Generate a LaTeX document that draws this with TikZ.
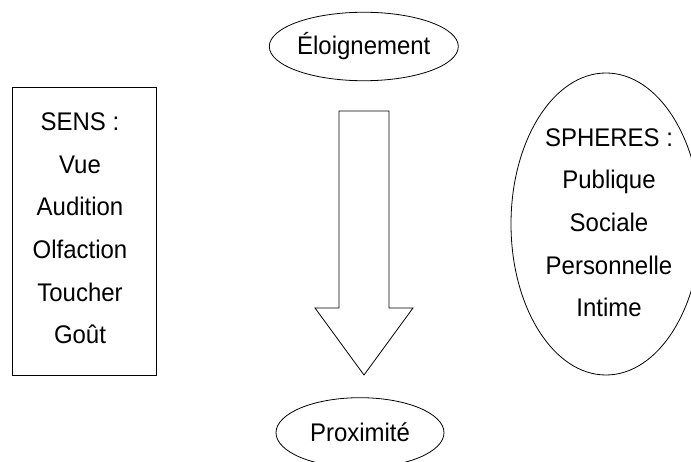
\documentclass[tikz,border=0pt]{standalone}
\usepackage{fontspec}
\setmainfont{Liberation Sans}[FakeStretch=0.94]
\usetikzlibrary{shapes.geometric}

\begin{document}
\begin{tikzpicture}[x=1pt,y=-1pt,
		trait/.style={line width=0.8pt},
		bulle/.style={draw,ellipse,trait,inner sep=0pt},
		liste/.style={align=center,font=\fontsize{25.5}{42.6}\selectfont}]
                \pgfmathsetmacro{\fx}{364}
                \pgfmathsetmacro{\fl}{25}
                \pgfmathsetmacro{\ft}{49}
                \pgfmathsetmacro{\fh}{111}
                \pgfmathsetmacro{\fb}{308}
                \pgfmathsetmacro{\fp}{375}

                \useasboundingbox (0,0) rectangle (691,462);
		\node[bulle,liste,minimum width=189pt,minimum height=68.5pt] (loin) at (363.8,46.5) {Éloignement};
		\node[bulle,liste,minimum width=168pt,minimum height=70pt] (proche) at (360,432.7) {Proximité};

		\draw[trait] (12.5,87.5) rectangle (156.5,375);
		\node[liste] (sens) at (80,228.4) {SENS :\\Vue\\Audition\\Olfaction\\Toucher\\Goût};

		\node[bulle,minimum width=190pt,minimum height=302pt] (spheres) at (606,224) {};
		\node[liste] (zones) at (609,222.7) {SPHERES :\\Publique\\Sociale\\Personnelle\\Intime};

		\draw[trait] (\fx-\fl,\fh) -- (\fx+\fl,\fh) -- (\fx+\fl,\fb) -- (\fx+\ft,\fb)
			-- (\fx,\fp) -- (\fx-\ft,\fb) -- (\fx-\fl,\fb) -- cycle;

        \end{tikzpicture}
\end{document}
